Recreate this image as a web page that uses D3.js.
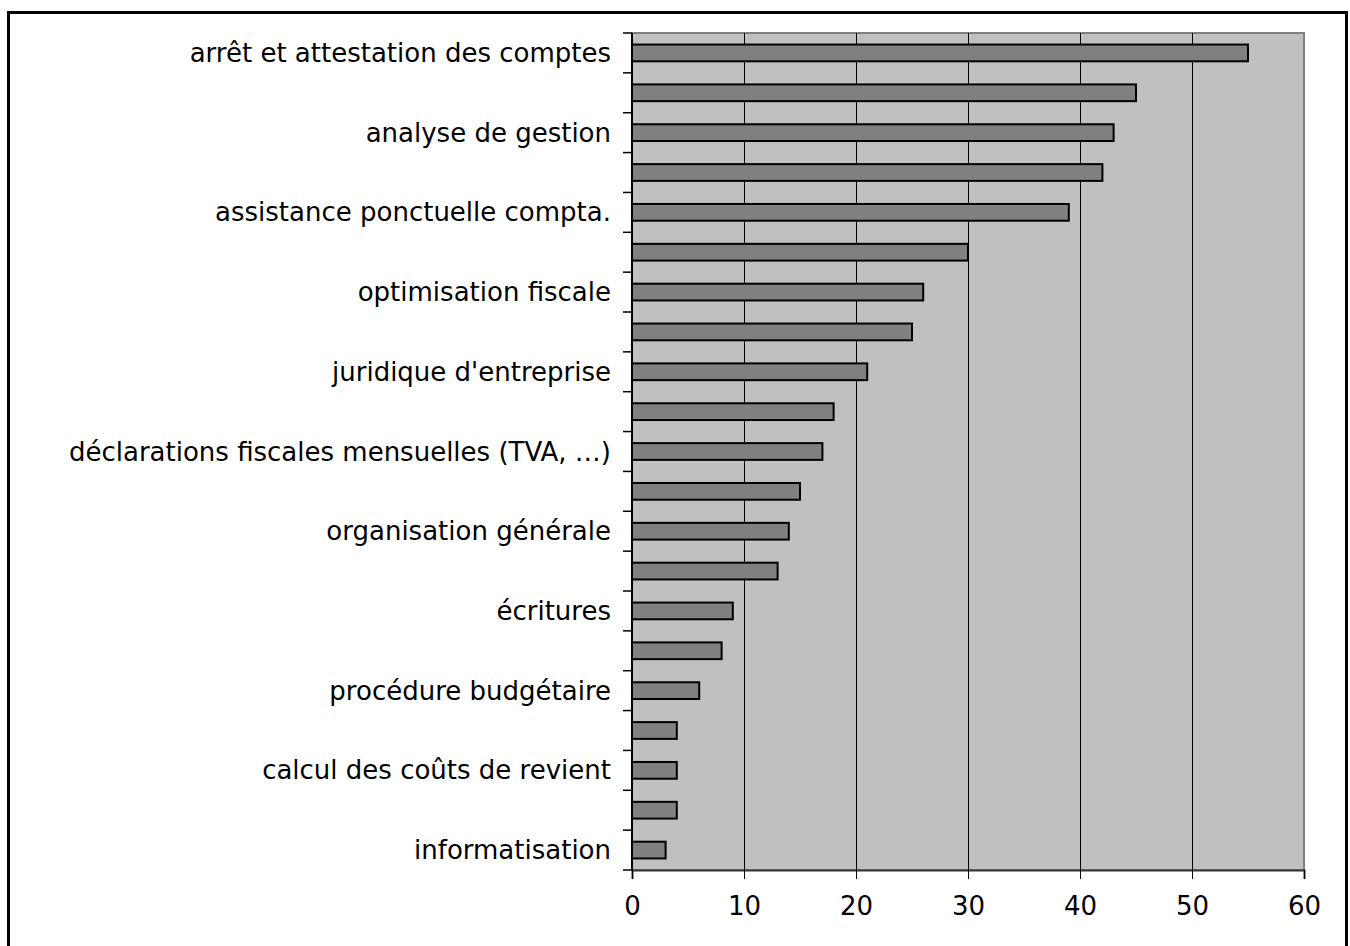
<!DOCTYPE html>
<html>
<head>
<meta charset="utf-8">
<script src="https://cdn.jsdelivr.net/npm/d3@7"></script>
<style>
  body { margin: 0; background: #fff; }
  text { font-family: "DejaVu Sans", Verdana, sans-serif; fill: #000; }
</style>
</head>
<body>
<script>
// prestations (seules une étiquette sur deux est affichée, comme dans l'original)
let categories = [
  'arrêt et attestation des comptes', '',
  'analyse de gestion', '',
  'assistance ponctuelle compta.', '',
  'optimisation fiscale', '',
  "juridique d'entreprise", '',
  'déclarations fiscales mensuelles (TVA, …)', '',
  'organisation générale', '',
  'écritures', '',
  'procédure budgétaire', '',
  'calcul des coûts de revient', '',
  'informatisation'
]
let values = [55, 45, 43, 42, 39, 30, 26, 25, 21, 18, 17, 15, 14, 13, 9, 8, 6, 4, 4, 4, 3]
let xTicks = [0, 10, 20, 30, 40, 50, 60]

let W = 1350, H = 946
let plotLeft = 632, plotRight = 1304, plotTop = 33, plotBottom = 870

let svg = d3.select('body').append('svg')
  .attr('width', W)
  .attr('height', H)

// cadre extérieur
svg.append('rect')
  .attr('x', 8.5).attr('y', 12.5)
  .attr('width', 1338).attr('height', 960)
  .attr('fill', 'none')
  .attr('stroke', '#000')
  .attr('stroke-width', 3)

let x = d3.scaleLinear().domain([0, 60]).range([plotLeft, plotRight])
let y = d3.scaleBand()
  .domain(d3.range(categories.length))
  .range([plotTop, plotBottom])
  .paddingInner(0.58)
  .paddingOuter(0.29)

// zone de tracé
svg.append('rect')
  .attr('x', plotLeft).attr('y', plotTop)
  .attr('width', plotRight - plotLeft).attr('height', plotBottom - plotTop)
  .attr('fill', '#c0c0c0')
  .attr('stroke', '#808080')
  .attr('stroke-width', 2)

// quadrillage vertical
svg.append('g')
  .selectAll('line')
  .data(xTicks.slice(1, -1))
  .enter().append('line')
  .attr('x1', d => Math.round(x(d)) + 0.5).attr('x2', d => Math.round(x(d)) + 0.5)
  .attr('y1', plotTop).attr('y2', plotBottom)
  .attr('stroke', '#000')
  .attr('stroke-width', 1)

// barres
svg.append('g')
  .selectAll('rect')
  .data(values)
  .enter().append('rect')
  .attr('x', x(0))
  .attr('y', (d, i) => y(i))
  .attr('width', d => x(d) - x(0))
  .attr('height', y.bandwidth())
  .attr('fill', '#808080')
  .attr('stroke', '#000')
  .attr('stroke-width', 2)

// axe X
let xAxis = svg.append('g')
  .attr('transform', 'translate(0,' + plotBottom + ')')
  .call(d3.axisBottom(x).tickValues(xTicks).tickSize(9).tickPadding(18))
xAxis.select('.domain').attr('stroke', '#333').attr('stroke-width', 2)
xAxis.selectAll('.tick line').attr('stroke', '#000')
xAxis.selectAll('text').style('font-size', '26px').attr('fill', '#000')

// axe Y : graduations entre catégories
let bandStep = (plotBottom - plotTop) / categories.length
let yTicks = d3.range(categories.length + 1).map(i => plotTop + i * bandStep)
svg.append('g')
  .selectAll('line')
  .data(yTicks)
  .enter().append('line')
  .attr('x1', plotLeft - 9).attr('x2', plotLeft)
  .attr('y1', d => d).attr('y2', d => d)
  .attr('stroke', '#000')
  .attr('stroke-width', 1.5)
svg.append('line')
  .attr('x1', plotLeft).attr('x2', plotLeft)
  .attr('y1', plotTop).attr('y2', plotBottom)
  .attr('stroke', '#000')
  .attr('stroke-width', 2)

// étiquettes
svg.append('g')
  .selectAll('text')
  .data(categories)
  .enter().append('text')
  .attr('x', plotLeft - 21)
  .attr('y', (d, i) => y(i) + y.bandwidth() / 2)
  .attr('dy', '0.35em')
  .attr('text-anchor', 'end')
  .style('font-size', '26px')
  .text(d => d)
</script>
</body>
</html>
